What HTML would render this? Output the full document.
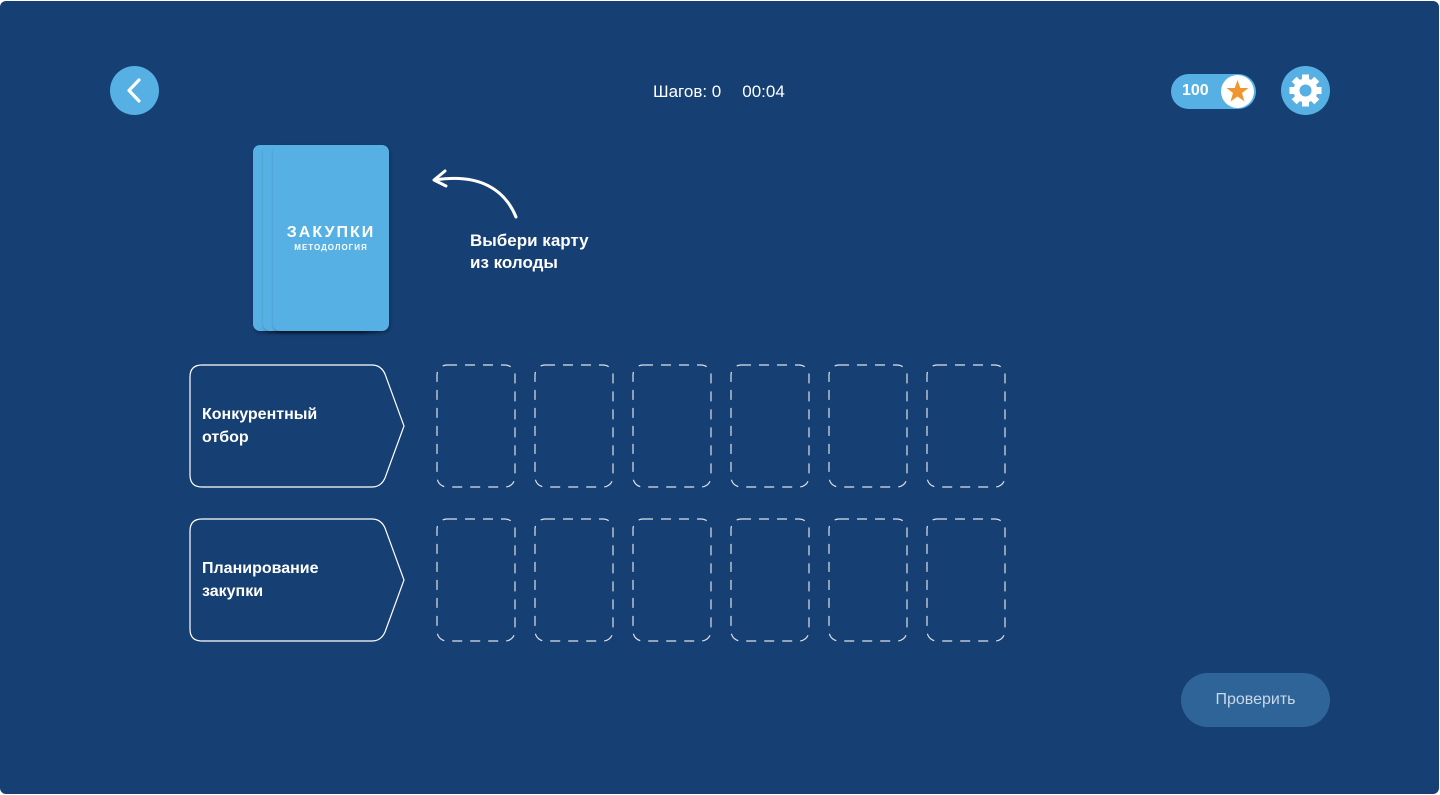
<!DOCTYPE html>
<html><head><meta charset="utf-8"><style>
html,body{margin:0;padding:0;background:#fff;}
#s{position:absolute;left:0;top:1px;width:1439px;height:793px;background:#163f73;border-radius:6px;overflow:hidden;font-family:"Liberation Sans","DejaVu Sans",sans-serif;color:#fff;}
.a{position:absolute;}
.card{position:absolute;width:116px;height:186px;background:#57b0e4;border-radius:7px;box-shadow:1px 2px 3px rgba(0,0,0,.3);}
</style></head><body><div id="s">
<div class="a" style="left:110px;top:65px;width:49px;height:49px;border-radius:50%;background:#57b0e4;"></div>
<svg class="a" style="left:110px;top:65px" width="49" height="49"><path d="M29 14 L19 24.5 L29 35" stroke="#fff" stroke-width="3.2" fill="none" stroke-linecap="round" stroke-linejoin="round"/></svg>
<div class="a" style="left:653px;top:81px;font-size:17px;white-space:nowrap;">Шагов: 0<span style="display:inline-block;width:21px"></span>00:04</div>
<div class="a" style="left:1171px;top:73px;width:85px;height:35px;border-radius:18px;background:#57b0e4;"></div>
<div class="a" style="left:1182px;top:81px;font-size:16px;font-weight:bold;">100</div>
<div class="a" style="left:1221px;top:74px;width:33px;height:33px;border-radius:50%;background:#fff;"></div>
<svg class="a" style="left:1221px;top:74px" width="33" height="33"><polygon points="16.5,5 19.3,13 27.5,13 21,18 23.5,26.5 16.5,21.5 9.5,26.5 12,18 5.5,13 13.7,13" fill="#f0962e"/></svg>
<div class="a" style="left:1281px;top:65px;width:49px;height:49px;border-radius:50%;background:#57b0e4;"></div>
<svg class="a" style="left:1281px;top:65px" width="49" height="49" viewBox="0 0 49 49"><g fill="#fff" transform="translate(24.5 24.5)">
<rect x="-3.5" y="-16" width="7" height="32"/><rect x="-3.5" y="-16" width="7" height="32" transform="rotate(45)"/><rect x="-3.5" y="-16" width="7" height="32" transform="rotate(90)"/><rect x="-3.5" y="-16" width="7" height="32" transform="rotate(135)"/>
<circle r="12"/></g><circle cx="24.5" cy="24.5" r="6" fill="#57b0e4"/></svg>
<div class="card" style="left:253px;top:144px;"></div>
<div class="card" style="left:263px;top:144px;"></div>
<div class="card" style="left:273px;top:144px;"></div>
<div class="a" style="left:273px;top:223px;width:116px;text-align:center;font-size:16px;font-weight:bold;letter-spacing:2px;">ЗАКУПКИ</div>
<div class="a" style="left:273px;top:242px;width:116px;text-align:center;font-size:8px;font-weight:bold;letter-spacing:1px;">МЕТОДОЛОГИЯ</div>
<svg class="a" style="left:425px;top:164px" width="100" height="60"><path d="M91 52 C80 25 55 8 10 15" stroke="#fff" stroke-width="3" fill="none" stroke-linecap="round"/><path d="M20 6 L9 15 L21 21" stroke="#fff" stroke-width="3" fill="none" stroke-linecap="round" stroke-linejoin="round"/></svg>
<div class="a" style="left:470px;top:229px;font-size:17px;font-weight:bold;line-height:22px;">Выбери карту<br>из колоды</div>
<svg class="a" style="left:0;top:-1px" width="1440" height="795">
<g fill="none" stroke="#fff" stroke-width="1.2">
<path d="M202 365 H372 Q381 365 385 374 L404 426 L385 478 Q381 487 372 487 H202 Q190 487 190 475 V377 Q190 365 202 365 Z"/>
<path d="M202 519 H372 Q381 519 385 528 L404 580 L385 632 Q381 641 372 641 H202 Q190 641 190 629 V531 Q190 519 202 519 Z"/>
</g>
<g fill="none" stroke="#fff" stroke-width="1.2" stroke-dasharray="10 8" opacity=".85">
<rect x="437" y="365" width="78" height="122" rx="10"/><rect x="535" y="365" width="78" height="122" rx="10"/><rect x="633" y="365" width="78" height="122" rx="10"/><rect x="731" y="365" width="78" height="122" rx="10"/><rect x="829" y="365" width="78" height="122" rx="10"/><rect x="927" y="365" width="78" height="122" rx="10"/>
<rect x="437" y="519" width="78" height="122" rx="10"/><rect x="535" y="519" width="78" height="122" rx="10"/><rect x="633" y="519" width="78" height="122" rx="10"/><rect x="731" y="519" width="78" height="122" rx="10"/><rect x="829" y="519" width="78" height="122" rx="10"/><rect x="927" y="519" width="78" height="122" rx="10"/>
</g></svg>
<div class="a" style="left:202px;top:402px;font-size:16px;font-weight:bold;line-height:23px;">Конкурентный<br>отбор</div>
<div class="a" style="left:202px;top:556px;font-size:16px;font-weight:bold;line-height:23px;">Планирование<br>закупки</div>
<div class="a" style="left:1181px;top:672px;width:149px;height:54px;border-radius:27px;background:#2e6498;text-align:center;line-height:54px;font-size:16px;color:#c9d8ea;">Проверить</div>
</div></body></html>
